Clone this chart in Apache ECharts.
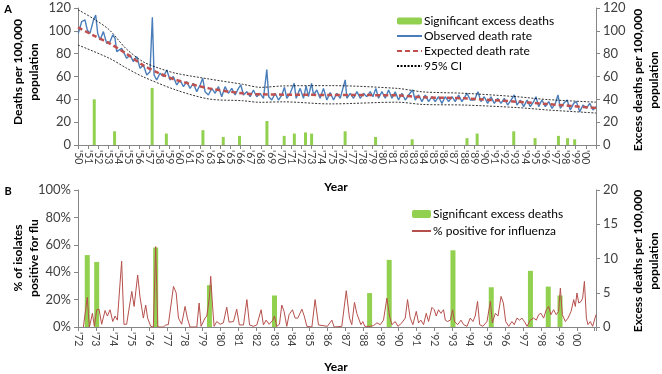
<!DOCTYPE html>
<html><head><meta charset="utf-8">
<script src="https://cdn.jsdelivr.net/npm/echarts@6/dist/echarts.min.js"></script>
<style>html,body{margin:0;padding:0;background:#fff}#c{width:662px;height:374px}</style>
</head><body><div id="c"></div>
<script>
// ---------- Panel A data ----------
const yearLabelsA = ["'50","'51","'52","'53","'54","'55","'56","'57","'58","'59","'60","'61","'62","'63","'64","'65","'66","'67","'68","'69","'70","'71","'72","'73","'74","'75","'76","'77","'78","'79","'80","'81","'82","'83","'84","'85","'86","'87","'88","'89","'90","'91","'92","'93","'94","'95","'96","'97","'98","'99","'00",""];

const excessYearsA = [1951.6, 1953.6, 1957.3, 1958.7, 1962.3, 1964.3, 1965.9, 1968.6, 1970.3, 1971.3, 1972.4, 1973.0, 1976.3, 1979.3, 1982.9, 1988.3, 1989.3, 1992.9, 1995.0, 1997.3, 1998.2, 1998.9];
const excessValuesA = [40, 12, 50, 10, 13, 7, 8, 21, 8, 10, 11, 10, 12, 7, 5, 6, 10, 12, 6, 8, 6, 5];

const obsYears = [1950.03,1950.36,1950.69,1950.92,1951.18,1951.51,1951.74,1951.94,1952.17,1952.50,1952.82,1953.15,1953.42,1953.65,1953.81,1954.30,1954.79,1955.12,1955.45,1955.78,1956.11,1956.44,1956.77,1957.09,1957.32,1957.49,1957.75,1958.08,1958.41,1958.74,1959.06,1959.39,1959.72,1960.05,1960.38,1960.71,1961.03,1961.36,1961.69,1962.02,1962.28,1962.51,1962.84,1963.17,1963.50,1963.83,1964.15,1964.48,1964.81,1965.14,1965.47,1965.80,1966.03,1966.29,1966.62,1966.95,1967.27,1967.60,1967.93,1968.26,1968.59,1968.78,1969.08,1969.41,1969.74,1970.07,1970.33,1970.56,1970.89,1971.28,1971.48,1971.87,1972.20,1972.46,1972.69,1972.99,1973.19,1973.51,1973.84,1974.17,1974.50,1974.83,1975.16,1975.49,1975.82,1976.31,1976.47,1976.80,1977.13,1977.46,1977.79,1978.11,1978.44,1978.77,1979.03,1979.33,1979.59,1979.92,1980.25,1980.58,1980.91,1981.23,1981.56,1981.89,1982.22,1982.55,1982.94,1983.20,1983.53,1983.86,1984.19,1984.52,1984.85,1985.17,1985.50,1985.83,1986.16,1986.49,1986.82,1987.14,1987.47,1987.80,1988.30,1988.62,1989.02,1989.38,1989.67,1990.00,1990.33,1990.66,1990.99,1991.32,1991.64,1991.97,1992.30,1992.63,1992.96,1993.22,1993.55,1993.88,1994.21,1994.53,1994.86,1995.09,1995.36,1995.68,1996.01,1996.34,1996.67,1997.00,1997.26,1997.49,1997.82,1998.15,1998.47,1998.80,1999.07,1999.40,1999.72,2000.05,2000.38,2000.71,2001.00];
const obsValues = [97.8,108,109.5,100.7,97.8,109,113.9,97.8,92,99.3,89,90.5,96.4,93.4,81.8,84.7,75.9,78.8,73,77.4,67.2,70.1,61.3,64.2,111.8,61.3,56.9,62.8,59.9,65.7,56.9,59.9,52.6,56.9,51.1,55.5,49.6,54,46.7,52.6,58.4,46.7,43.8,49.6,45.3,51.1,42.3,51.1,45.3,49.6,43.8,49.6,52.6,43.8,46.7,42.3,48.2,42.3,45.3,40.9,66,42.3,39.4,45.3,39.4,43.8,50.5,40.9,45.3,54,40.9,49.6,40.9,51.7,42.3,54,43.8,48.2,40.9,49.6,39.4,46,39.4,45.3,40.9,57,40.9,45.3,40.9,46.7,40.9,45.3,42.3,46.7,42.3,49.6,40.9,46.7,40.9,48.2,40.9,46.7,39.4,45.3,39.4,43.8,48.2,39.4,43.8,38,43.8,38,42.3,38,42.3,36.5,42.3,38,42.3,38,43.8,38,45.3,39.4,39.4,46.7,38,42.3,36.5,42.3,36.5,40.9,36.5,40.9,35,39.4,43.8,35,39.4,33.6,39.4,33.6,38,42.3,33.6,39.4,33.6,38,32.1,36.5,43.8,32.1,36.5,39.4,30.7,36.5,38,29.2,35,32.1,36.5,30.7,33.6];

const expYears = [1950, 1951.45, 1953.1, 1954.7, 1956.4, 1958, 1959.65, 1962.9, 1966.2, 1967.9, 1974.8, 1981.4, 1984, 1988, 1993.2, 1996.2, 2001];
const expValues = [103, 96.3, 89, 80.3, 70, 62.8, 57, 49.6, 45.3, 44.4, 43.8, 43.5, 41.8, 40.9, 37.9, 35.9, 32.4];

const ciUpperYears = [1950, 1951.45, 1953.1, 1954.7, 1956.4, 1958, 1959.65, 1962.9, 1966.2, 1968, 1970.2, 1974.8, 1981.4, 1984, 1988, 1993.2, 1996.2, 2001];
const ciUpper = [118.5, 111, 100.7, 84.7, 73, 67.2, 62.8, 57.8, 53.2, 50.5, 51.7, 52, 49.6, 46.5, 45.3, 42.3, 39.8, 37.5];
const ciLowerYears = [1950, 1953.1, 1954.8, 1956.4, 1959.65, 1962.9, 1966.2, 1967.9, 1970.2, 1974.8, 1981.4, 1984, 1988, 1993.2, 1996.2, 2001];
const ciLower = [87.6, 75.9, 67.2, 59.8, 48.2, 40.3, 38.8, 37.4, 37.8, 36, 37.5, 35.5, 35, 32.8, 30.7, 28];

// ---------- Panel B data ----------
const excessYearsB = [1972.52, 1973.05, 1976.36, 1979.38, 1983.03, 1988.37, 1989.47, 1993.05, 1995.2, 1997.4, 1998.4, 1999.06];
const excessValuesB = [10.5, 9.5, 11.6, 6.1, 4.6, 4.95, 9.8, 11.2, 5.8, 8.2, 5.9, 4.6];

const fluYears = [1972.30,1972.52,1972.64,1972.81,1972.92,1973.05,1973.18,1973.33,1973.52,1973.65,1973.80,1973.95,1974.08,1974.21,1974.45,1974.58,1974.73,1975.02,1975.15,1975.35,1975.48,1975.58,1975.67,1975.80,1975.91,1976.08,1976.23,1976.36,1976.48,1976.79,1976.93,1977.07,1977.22,1977.36,1977.51,1977.64,1977.82,1978.01,1978.14,1978.29,1978.67,1978.80,1978.91,1979.13,1979.23,1979.38,1979.45,1979.55,1979.64,1979.79,1979.98,1980.16,1980.35,1980.48,1980.73,1980.91,1981.06,1981.29,1981.48,1981.63,1981.85,1982.04,1982.28,1982.41,1982.56,1982.73,1982.94,1983.03,1983.16,1983.31,1983.44,1983.57,1983.72,1983.85,1984.04,1984.19,1984.34,1984.57,1984.70,1984.85,1985.13,1985.31,1985.50,1986.00,1986.25,1986.38,1986.81,1987.06,1987.24,1987.37,1987.52,1987.65,1987.75,1987.88,1987.99,1988.10,1988.40,1988.59,1988.78,1988.97,1989.15,1989.34,1989.49,1989.62,1989.81,1989.96,1990.18,1990.37,1990.50,1990.65,1990.80,1990.99,1991.12,1991.25,1991.40,1991.55,1991.68,1991.87,1992.00,1992.11,1992.24,1992.37,1992.52,1992.62,1992.75,1992.90,1993.03,1993.14,1993.31,1993.50,1993.65,1993.84,1994.02,1994.17,1994.30,1994.43,1994.55,1994.73,1994.96,1995.15,1995.26,1995.43,1995.58,1995.75,1995.88,1996.01,1996.18,1996.36,1996.49,1996.64,1996.79,1996.92,1997.06,1997.21,1997.39,1997.58,1997.73,1997.86,1997.99,1998.14,1998.29,1998.42,1998.55,1998.70,1998.85,1998.98,1999.08,1999.19,1999.36,1999.51,1999.68,1999.83,1999.92,2000.01,2000.11,2000.24,2000.33,2000.43,2000.54,2000.63,2000.76,2000.89,2001.08];
const fluValues = [0,21.6,0,10,0.5,12.6,13,2,12,8,12.6,4,8,5,48,2,2,26,15,38,22,21,6.5,16,6.5,0.5,0,58.7,0,0,1.5,1.7,16,29.6,25,6.5,2,15,6.5,0,0,17.5,0.5,6.5,8,22,37,16,0.5,4,2,3,14.5,3.5,4,13,1.5,1.5,20,1.5,0.5,1.5,12.6,1.5,5,2,5,8,0.5,2,16,11.4,0.5,9,12.6,6.5,6.5,13,8,0.5,0,20,1.5,0.5,5,0,0.5,26.5,6.5,1.7,18,10,9,1.7,4,0.5,0.5,1,3,1.7,5,21,8,1.7,4,0.5,3,6.5,20,6.5,1.7,11.4,3,5,1.7,10,4,14.3,12.6,8,12.6,10,12.6,5,4,5,12.6,4,1.7,5,1.7,0.5,6.5,4,8,18.7,1.7,0.5,4,18.7,3,10,8,22.3,17.5,4,0.5,4,1.7,6.5,5,6.5,4,0.5,5,6.5,5,9,10,6.5,12.6,15,9,12.6,9,11.4,28.4,9,4,6.5,11.4,20,15,24.8,17.5,18.7,21,33.3,6.5,1.7,4,0.5,9];

const zip = (xs, ys) => xs.map((x, i) => [x, ys[i]]);
const yearFmt = v => (v >= 2001 ? '' : "'" + String(Math.round(v)).slice(2));

const axisGray = '#868686';
const txt = '#404040';
const FONT = 'Lato';
const GREEN = '#92D050';

function yAx(grid, pos, max, interval, fmt) {
  return {
    type: 'value', gridIndex: grid, position: pos, min: 0, max: max, interval: interval,
    axisLine: { show: true, lineStyle: { color: axisGray } },
    axisTick: { show: true, length: 4, lineStyle: { color: axisGray } },
    axisLabel: { color: txt, fontSize: 13, fontFamily: FONT, margin: 7, formatter: fmt },
    splitLine: { show: false }
  };
}
function xAx(grid, min, max, showLabels) {
  return {
    type: 'value', gridIndex: grid, min: min, max: max, interval: 1,
    axisLine: { show: true, onZero: false, lineStyle: { color: axisGray } },
    axisTick: { show: true, length: 4, lineStyle: { color: axisGray } },
    axisLabel: { show: showLabels, rotate: -90, color: txt, fontSize: 10.5, fontFamily: FONT, margin: 5, formatter: yearFmt,
      showMinLabel: true, showMaxLabel: true },
    splitLine: { show: false }
  };
}
const titleText = (x, y, text, rot, size) => ({
  type: 'text', x: x, y: y, rotation: rot || 0,
  style: { text: text, fontSize: size || 12, fontWeight: 'bold', fontFamily: FONT, fill: '#000', align: 'center', verticalAlign: 'middle', lineHeight: 16 }
});
const noSym = { opacity: 0, borderWidth: 0 };

const chart = echarts.init(document.getElementById('c'), null, { renderer: 'canvas' });
chart.setOption({
  animation: false,
  backgroundColor: '#fff',
  grid: [
    { left: 78, right: 66, top: 8, height: 137 },
    { left: 78, right: 66, top: 190, height: 137 }
  ],
  xAxis: [
    xAx(0, 1950, 2001, false),
    xAx(1, 1972, 2001.08, true),
    {
      type: 'category', gridIndex: 0, position: 'bottom', data: yearLabelsA, boundaryGap: false,
      axisLine: { show: false }, axisTick: { show: false }, splitLine: { show: false },
      axisLabel: { interval: 0, rotate: -90, color: txt, fontSize: 10.5, fontFamily: FONT, margin: 5 }
    }
  ],
  yAxis: [
    yAx(0, 'left', 120, 20),
    yAx(0, 'right', 120, 20),
    yAx(1, 'left', 100, 20, '{value}%'),
    yAx(1, 'right', 20, 5)
  ],
  legend: [
    {
      orient: 'vertical', left: 391, top: 10, itemGap: 3, itemWidth: 25, itemHeight: 7,
      textStyle: { fontSize: 12, fontFamily: FONT, color: '#000', padding: [0, 0, 0, -3] },
      data: [
        { name: 'Significant excess deaths' },
        { name: 'Observed death rate', itemStyle: noSym },
        { name: 'Expected death rate', itemStyle: noSym },
        { name: '95% CI', itemStyle: noSym }
      ]
    },
    {
      orient: 'vertical', left: 406, top: 203, itemGap: 5, itemWidth: 19, itemHeight: 8,
      textStyle: { fontSize: 12, fontFamily: FONT, color: '#000', padding: [0, 0, 0, -3] },
      data: [
        { name: 'Significant excess deaths' },
        { name: '% positive for influenza', itemStyle: noSym }
      ]
    }
  ],
  graphic: [
    titleText(8, 9, 'A', 0, 11),
    titleText(8, 191, 'B', 0, 11),
    titleText(336, 187, 'Year', 0, 12),
    titleText(336, 367, 'Year', 0, 12),
    titleText(26, 72, 'Deaths per 100,000\npopulation', Math.PI / 2),
    titleText(646, 80, 'Excess deaths per 100,000\npopulation', Math.PI / 2),
    titleText(26, 258, '% of isolates\npositive for flu', Math.PI / 2),
    titleText(646, 261, 'Excess deaths per 100,000\npopulation', Math.PI / 2)
  ],
  series: [
    { name: 'Significant excess deaths', type: 'bar', xAxisIndex: 0, yAxisIndex: 1, barWidth: 3,
      itemStyle: { color: GREEN }, data: zip(excessYearsA, excessValuesA) },
    { name: 'Observed death rate', type: 'line', xAxisIndex: 0, yAxisIndex: 0, symbol: 'none',
      lineStyle: { color: '#4A7EBB', width: 1.4 }, itemStyle: { color: '#4A7EBB' }, data: zip(obsYears, obsValues) },
    { name: 'Expected death rate', type: 'line', xAxisIndex: 0, yAxisIndex: 0, symbol: 'none', smooth: 0.3,
      lineStyle: { color: '#C0504D', width: 2.5, type: [5, 3] }, itemStyle: { color: '#C0504D' }, data: zip(expYears, expValues) },
    { name: '95% CI', type: 'line', xAxisIndex: 0, yAxisIndex: 0, symbol: 'none', smooth: 0.3,
      lineStyle: { color: '#000', width: 0.8, type: [2, 1.5] }, itemStyle: { color: '#000' }, data: zip(ciUpperYears, ciUpper) },
    { name: '95% CI', type: 'line', xAxisIndex: 0, yAxisIndex: 0, symbol: 'none', smooth: 0.3,
      lineStyle: { color: '#000', width: 0.8, type: [2, 1.5] }, itemStyle: { color: '#000' }, data: zip(ciLowerYears, ciLower) },
    { name: 'Significant excess deaths', type: 'bar', xAxisIndex: 1, yAxisIndex: 3, barWidth: 5,
      itemStyle: { color: GREEN }, data: zip(excessYearsB, excessValuesB) },
    { name: '% positive for influenza', type: 'line', xAxisIndex: 1, yAxisIndex: 2, symbol: 'none',
      lineStyle: { color: '#B5504C', width: 1 }, itemStyle: { color: '#B5504C' }, data: zip(fluYears, fluValues) }
  ]
});
</script></body></html>
